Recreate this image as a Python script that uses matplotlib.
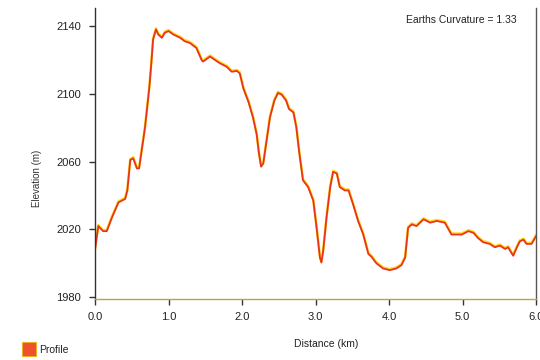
import matplotlib
matplotlib.use("Agg")
import matplotlib.pyplot as plt
import matplotlib.transforms as mtransforms
from matplotlib.patches import Rectangle

plt.rcParams['font.family'] = ['Liberation Sans', 'DejaVu Sans']

# Terrain profile along the line of sight
distance_km = [0.00, 0.045, 0.11, 0.16, 0.23, 0.32, 0.41, 0.44, 0.48, 0.52,
               0.57, 0.60, 0.63, 0.68, 0.71, 0.74, 0.77, 0.79, 0.83, 0.86,
               0.91, 0.95, 1.00, 1.065, 1.16, 1.22, 1.29, 1.38, 1.45, 1.47,
               1.565, 1.63, 1.70, 1.79, 1.86, 1.93, 1.97, 2.02, 2.09, 2.15,
               2.20, 2.23, 2.26, 2.29, 2.33, 2.38, 2.44, 2.49, 2.54, 2.60,
               2.64, 2.70, 2.74, 2.78, 2.83, 2.90, 2.97, 3.015, 3.06, 3.08,
               3.105, 3.15, 3.20, 3.24, 3.29, 3.33, 3.40, 3.45, 3.51, 3.58,
               3.65, 3.72, 3.76, 3.83, 3.92, 4.01, 4.10, 4.17, 4.22, 4.26,
               4.31, 4.375, 4.47, 4.56, 4.65, 4.76, 4.85, 4.99, 5.08, 5.15,
               5.21, 5.28, 5.37, 5.44, 5.51, 5.58, 5.62, 5.69, 5.74, 5.78,
               5.83, 5.87, 5.94, 6.00]
elevation_m = [2008, 2022, 2019, 2019, 2027, 2036, 2038, 2043, 2061, 2062,
               2056, 2056, 2065, 2080, 2092, 2104, 2120, 2132, 2138, 2135,
               2133, 2136, 2137, 2135, 2133, 2131, 2130, 2127, 2120, 2119,
               2122, 2120, 2118, 2116, 2113, 2113.5, 2112, 2103, 2095, 2086,
               2076, 2065, 2057, 2059, 2071, 2086, 2096, 2100.5, 2099.5, 2096,
               2091, 2089, 2080, 2065, 2049, 2045, 2037, 2021, 2003.5, 2000.5,
               2007.5, 2027, 2045, 2054, 2053, 2045, 2043, 2043, 2035, 2025,
               2017, 2005.5, 2004, 2000, 1997, 1996, 1997, 1999, 2003.5, 2021,
               2023, 2022, 2026, 2024, 2025, 2024, 2017, 2017, 2019, 2018,
               2015, 2012.5, 2011.5, 2009.5, 2010.5, 2008.5, 2009.5, 2004.5, 2009.5, 2013,
               2014, 2011.5, 2011.5, 2016]

x_ticks = [0, 1, 2, 3, 4, 5, 6]
x_tick_labels = ["0.0", "1.0", "2.0", "3.0", "4.0", "5.0", "6.0"]
y_ticks = [1980, 2020, 2060, 2100, 2140]
curvature = 1.33

fig = plt.figure(figsize=(5.4, 3.6), dpi=100)
ax = fig.add_axes([95 / 540, 1 - 299 / 360, 441 / 540, 291 / 360])

# yellow highlight slightly above the red profile line
shift = mtransforms.offset_copy(ax.transData, fig=fig, x=0, y=1.0, units='dots')
ax.plot(distance_km, elevation_m, color='#ffd81e', lw=1.8, transform=shift,
        solid_joinstyle='round')
ax.plot(distance_km, elevation_m, color='#e8341e', lw=1.3, solid_joinstyle='round')

ax.set_xlim(0, 6)
ax.set_ylim(1979, 2150.6)
ax.set_xticks(x_ticks)
ax.set_xticklabels(x_tick_labels)
ax.set_yticks(y_ticks)

ax.spines['top'].set_visible(False)
ax.spines['left'].set_color('#333333')
ax.spines['right'].set_color('#555555')
ax.spines['bottom'].set_color('#b8a83c')
for s in ('left', 'right', 'bottom'):
    ax.spines[s].set_linewidth(1.0)

ax.tick_params(axis='both', direction='out', length=4, width=1, color='#333333',
               labelsize=8, labelcolor='#222222')
ax.tick_params(axis='x', pad=5)
ax.tick_params(axis='y', pad=6)

fig.text(37 / 540, 1 - 178 / 360, "Elevation (m)", rotation=90, ha='center',
         va='center', fontsize=7, color='#333333')
fig.text(326 / 540, 1 - 344 / 360, "Distance (km)", ha='center', va='center',
         fontsize=7.5, color='#222222')
fig.text(517 / 540, 1 - 20 / 360, f"Earths Curvature = {curvature:.2f}",
         ha='right', va='center', fontsize=7.5, color='#222222')

# legend swatch
fig.patches.append(Rectangle((22 / 540, 1 - 356 / 360), 14 / 540, 14 / 360,
                             transform=fig.transFigure, facecolor='#f0502a',
                             edgecolor='#e8b030', lw=0.8))
fig.text(39 / 540, 1 - 350 / 360, "Profile", ha='left', va='center',
         fontsize=7.5, color='#222222')

fig.savefig("out.png", dpi=100)
